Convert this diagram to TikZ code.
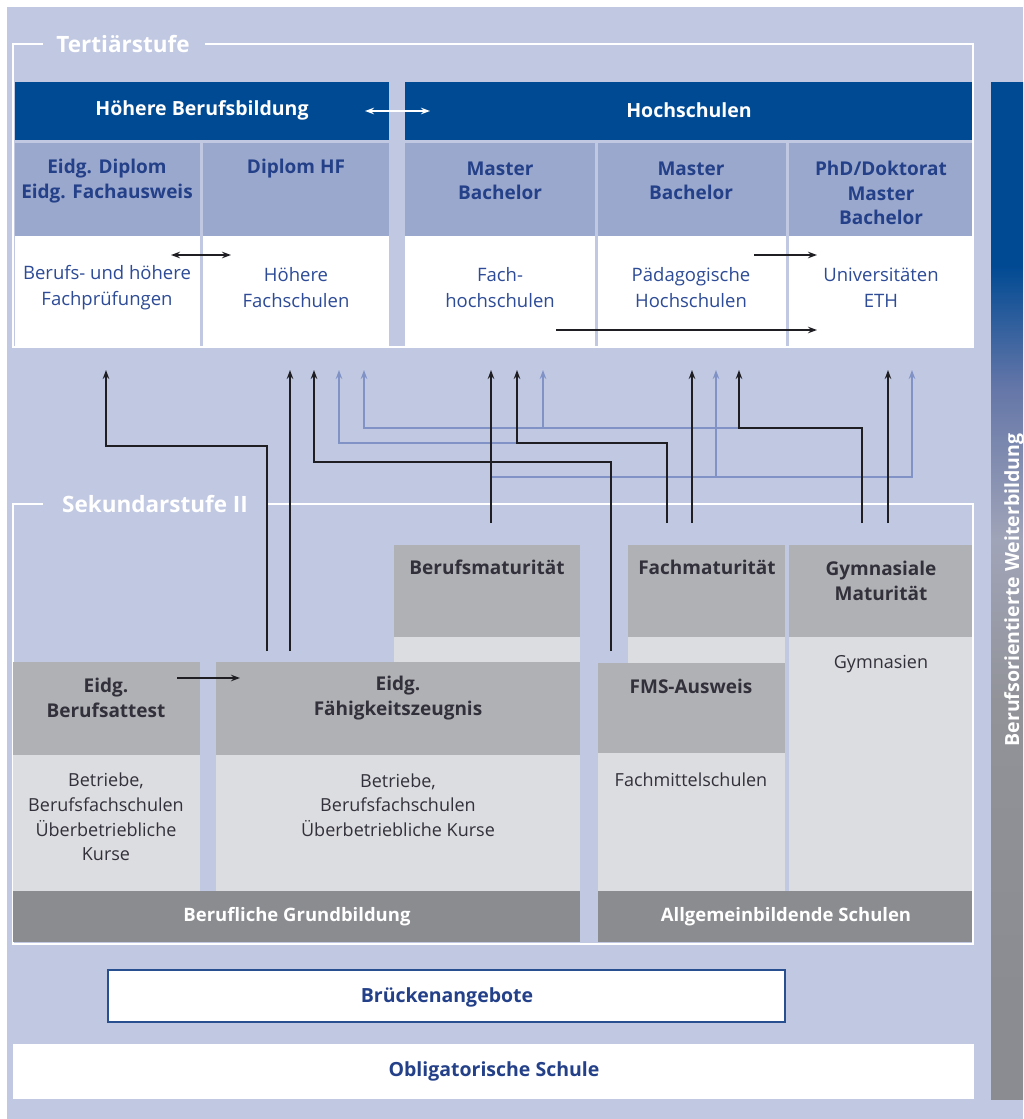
\documentclass[tikz,border=0pt]{standalone}
\usepackage{fontspec}
\setmainfont{Open Sans}
\usetikzlibrary{arrows.meta,fit}
\definecolor{bgc}{RGB}{193,200,226}
\definecolor{dblue}{RGB}{0,74,147}
\definecolor{mblue}{RGB}{155,168,205}
\definecolor{tnavy}{RGB}{35,64,136}
\definecolor{tblue}{RGB}{45,75,150}
\definecolor{ghead}{RGB}{176,177,181}
\definecolor{glight}{RGB}{220,221,224}
\definecolor{gbar}{RGB}{139,140,144}
\definecolor{gtext}{RGB}{50,48,58}
\definecolor{ablue}{RGB}{128,146,198}
\definecolor{akblack}{RGB}{30,30,35}
\definecolor{bbord}{RGB}{40,80,145}
\definecolor{bargrey}{RGB}{139,140,145}
\definecolor{barlow}{RGB}{146,147,153}
\definecolor{barlight}{RGB}{160,164,184}
\definecolor{barmidB}{RGB}{100,118,168}
\pgfdeclareverticalshading{barshade}{100bp}{color(0bp)=(bargrey); color(30bp)=(bargrey); color(44.5bp)=(barlow); color(52.5bp)=(barlight); color(60bp)=(barmidB); color(66bp)=(dblue); color(100bp)=(dblue)}
\tikzset{
  area/.style={inner sep=0pt, outer sep=0pt, draw=none},
  frameline/.style={draw=white, line width=2pt},
  lbltxt/.style={inner sep=0pt, text=white, font=\bfseries\fontsize{22.5}{26}\selectfont},
  hdrtxt/.style={inner sep=0pt, text=white, font=\bfseries\fontsize{19.5}{25}\selectfont},
  subtxt/.style={inner sep=0pt, align=center, text=tnavy, font=\bfseries\fontsize{19}{24.5}\selectfont},
  celltxt/.style={inner sep=0pt, align=center, text=tblue, font=\fontsize{18.5}{26}\selectfont},
  gheadtxt/.style={inner sep=0pt, align=center, text=gtext, font=\bfseries\fontsize{19}{24.5}\selectfont},
  gbodytxt/.style={inner sep=0pt, align=center, text=gtext, font=\fontsize{18}{24.7}\selectfont},
  bartxt/.style={inner sep=0pt, text=white, font=\bfseries\fontsize{19.5}{24}\selectfont},
  bottxt/.style={inner sep=0pt, text=tnavy, font=\bfseries\fontsize{19.5}{24}\selectfont},
  wbtxt/.style={inner sep=0pt, text=white, font=\bfseries\fontsize{18.5}{22}\selectfont},
  tip/.tip={Stealth[length=9pt,width=6.5pt]},
  conn/.style={draw=akblack, line width=1.5pt, -tip},
  conntwo/.style={draw=akblack, line width=1.5pt, tip-tip},
  connb/.style={draw=ablue, line width=1.5pt, -tip},
  wconn/.style={draw=white, line width=1.5pt, tip-tip},
}
\begin{document}
\begin{tikzpicture}[x=1pt,y=-1pt]
\useasboundingbox (0,0) rectangle (1023,1119);
\fill[bgc] (7,7) rectangle (1023,1119);

% frames
\draw[frameline] (43,44) -- (13,44) -- (13,347) -- (973,347) -- (973,44) -- (205,44);
\draw[frameline] (43,504) -- (13,504) -- (13,944) -- (973,944) -- (973,504) -- (267,504);
\node[lbltxt] (ltert) at (123,44) {Tertiärstufe};
\node[lbltxt] (lsek) at (155,504) {Sekundarstufe II};

% tertiary headers
\node[area, fill=dblue, fit={(15,82) (389,140)}] (hbb) {};
\node[area, fill=dblue, fit={(405,82) (972,140)}] (hs) {};
\node[hdrtxt] (thbb) at (202,110) {Höhere Berufsbildung};
\node[hdrtxt] (ths) at (689,110) {Hochschulen};

% row 2
\node[area, fill=mblue, fit={(15,143) (199.5,236)}] (c1) {};
\node[area, fill=mblue, fit={(203,143) (389,236)}] (c2) {};
\node[area, fill=mblue, fit={(405,143) (595,236)}] (c3) {};
\node[area, fill=mblue, fit={(598,143) (785.5,236)}] (c4) {};
\node[area, fill=mblue, fit={(789,143) (972,236)}] (c5) {};
\node[subtxt] (tc1) at (107,181) {Eidg. Diplom\\Eidg. Fachausweis};
\node[subtxt] (tc2) at (296,169) {Diplom HF};
\node[subtxt] (tc3) at (500,181) {Master\\Bachelor};
\node[subtxt] (tc4) at (691,181) {Master\\Bachelor};
\node[subtxt] (tc5) at (881,193) {PhD/Doktorat\\Master\\Bachelor};

% row 3
\node[area, fill=white, fit={(15,236) (199.5,346)}] (w1) {};
\node[area, fill=white, fit={(203,236) (389,346)}] (w2) {};
\node[area, fill=white, fit={(405,236) (595,346)}] (w3) {};
\node[area, fill=white, fit={(598,236) (785.5,346)}] (w4) {};
\node[area, fill=white, fit={(789,236) (972,346)}] (w5) {};
\node[celltxt] (tw1) at (107,288) {Berufs- und höhere\\Fachprüfungen};
\node[celltxt] (tw2) at (296,288) {Höhere\\Fachschulen};
\node[celltxt] (tw3) at (500,288) {Fach-\\hochschulen};
\node[celltxt] (tw4) at (691,288) {Pädagogische\\Hochschulen};
\node[celltxt] (tw5) at (881,288) {Universitäten\\ETH};

% secondary boxes
\node[area, fill=ghead, fit={(394,545) (580,637)}] (bm) {};
\node[area, fill=glight, fit={(394,637) (580,662)}] (bml) {};
\node[area, fill=ghead, fit={(628,545) (785,637)}] (fm) {};
\node[area, fill=glight, fit={(628,637) (785,663)}] (fml) {};
\node[area, fill=ghead, fit={(789,545) (972,637)}] (gm) {};
\node[area, fill=glight, fit={(789,637) (972,891)}] (gml) {};
\node[area, fill=ghead, fit={(13,662) (199.5,755)}] (eba) {};
\node[area, fill=glight, fit={(13,755) (199.5,891)}] (ebal) {};
\node[area, fill=ghead, fit={(216,662) (580,755)}] (efz) {};
\node[area, fill=glight, fit={(216,755) (580,891)}] (efzl) {};
\node[area, fill=ghead, fit={(598,663) (785,753)}] (fms) {};
\node[area, fill=glight, fit={(598,753) (785,891)}] (fmsl) {};
\node[area, fill=gbar, fit={(13,891) (580,942)}] (gb1) {};
\node[area, fill=gbar, fit={(598,891) (972,942)}] (gb2) {};

\node[gheadtxt] (tbm) at (487,567) {Berufsmaturität};
\node[gheadtxt] (tfm) at (707,567) {Fachmaturität};
\node[gheadtxt] (tgm) at (881,581) {Gymnasiale\\Maturität};
\node[gbodytxt] (tgml) at (881,664) {Gymnasien};
\node[gheadtxt] (teba) at (106,698) {Eidg.\\Berufsattest};
\node[gbodytxt] (tebal) at (106,817) {Betriebe,\\Berufsfachschulen\\Überbetriebliche\\Kurse};
\node[gheadtxt] (tefz) at (398,698) {Eidg.\\Fähigkeitszeugnis};
\node[gbodytxt] (tefzl) at (398,805) {Betriebe,\\Berufsfachschulen\\Überbetriebliche Kurse};
\node[gheadtxt] (tfms) at (691,686) {FMS-Ausweis};
\node[gbodytxt] (tfmsl) at (691,780) {Fachmittelschulen};
\node[wbtxt] (tgb1) at (297,917) {Berufliche Grundbildung};
\node[wbtxt] (tgb2) at (786,917) {Allgemeinbildende Schulen};

% bottom
\node[area, fill=white, draw=bbord, line width=2pt, fit={(108,970) (785,1022)}] (bru) {};
\node[bottxt] (tbru) at (447,997) {Brückenangebote};
\node[area, fill=white, fit={(13,1044) (974,1099)}] (obl) {};
\node[bottxt] (tobl) at (494,1071) {Obligatorische Schule};

% right bar
\node[area, shading=barshade, fit={(991,82) (1023,1099)}] (wbar) {};
\node[bartxt, rotate=90] (twbar) at (1014,590) {Berufsorientierte Weiterbildung};

% small arrows inside boxes
\coordinate (h1) at (365,111); \coordinate (h2) at (430,111);
\draw[wconn] (h1) -- (h2);
\coordinate (r1) at (171,255); \coordinate (r2) at (231,255);
\draw[conntwo] (r1) -- (r2);
\coordinate (r3) at (754,255); \coordinate (r4) at (817,255);
\draw[conn] (r3) -- (r4);
\coordinate (r5) at (556,330); \coordinate (r6) at (817,330);
\draw[conn] (r5) -- (r6);
\coordinate (e1) at (177,678); \coordinate (e2) at (240,678);
\draw[conn] (e1) -- (e2);

% connector coordinates
\coordinate (s1) at (267,651); \coordinate (j1) at (106,446); \coordinate (t1) at (106,370);
\coordinate (s2) at (290,651); \coordinate (t2) at (290,370);
\coordinate (s3) at (611,651); \coordinate (j3) at (314,462); \coordinate (t3) at (314,370);
\coordinate (s4) at (491,523); \coordinate (t4) at (491,370);
\coordinate (jb1) at (912,477); \coordinate (tb1) at (912,370);
\coordinate (kb1) at (716,477); \coordinate (tb2) at (716,370);
\coordinate (s6) at (667,523); \coordinate (j6) at (517,443); \coordinate (t6) at (517,370);
\coordinate (jb2) at (339,443); \coordinate (tb3) at (339,370);
\coordinate (s7) at (692,523); \coordinate (t7) at (692,370);
\coordinate (s8) at (862,523); \coordinate (j8) at (739,428); \coordinate (t8) at (739,370);
\coordinate (jb3) at (364,428); \coordinate (tb4) at (364,370);
\coordinate (kb3) at (543,428); \coordinate (tb5) at (543,370);
\coordinate (s9) at (888,523); \coordinate (t9) at (888,370);

% blue connectors
\draw[connb] (s4 |- jb1) -- (jb1) -- (tb1);
\draw[connb] (kb1) -- (tb2);
\draw[connb] (j6) -- (jb2) -- (tb3);
\draw[connb] (j8) -- (jb3) -- (tb4);
\draw[connb] (kb3) -- (tb5);

% black connectors
\draw[conn] (s1) -- (s1 |- j1) -- (j1) -- (t1);
\draw[conn] (s2) -- (t2);
\draw[conn] (s3) -- (s3 |- j3) -- (j3) -- (t3);
\draw[conn] (s4) -- (t4);
\draw[conn] (s6) -- (s6 |- j6) -- (j6) -- (t6);
\draw[conn] (s7) -- (t7);
\draw[conn] (s8) -- (s8 |- j8) -- (j8) -- (t8);
\draw[conn] (s9) -- (t9);
\end{tikzpicture}
\end{document}
